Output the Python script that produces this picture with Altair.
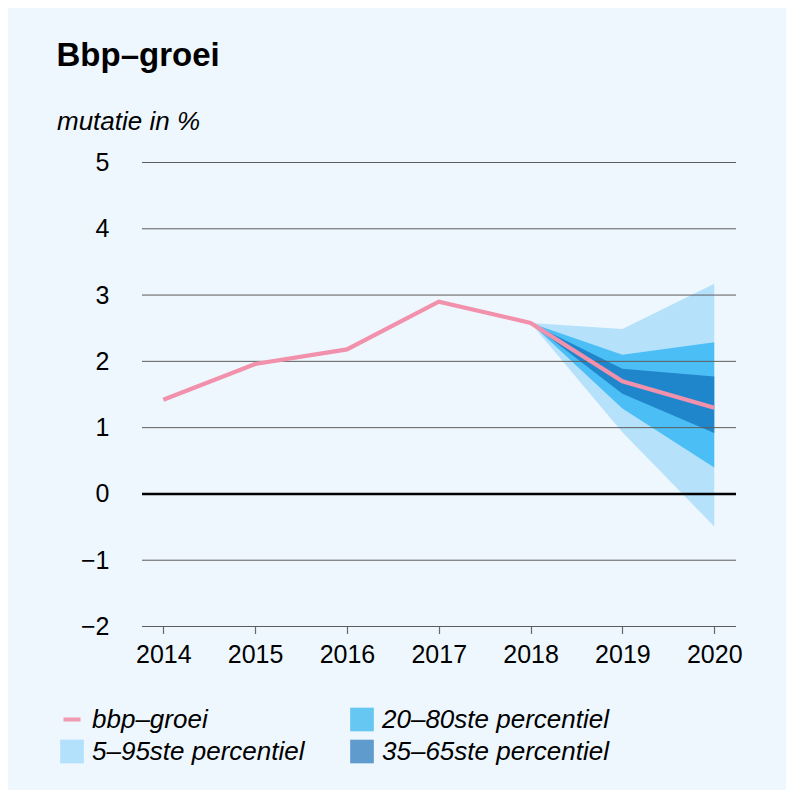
import altair as alt
import pandas as pd

# ---- data ----
years = [2014, 2015, 2016, 2017, 2018, 2019, 2020]
growth = [1.42, 1.96, 2.18, 2.90, 2.58, 1.70, 1.30]

fan_years = [2018, 2019, 2020]
p5 = [2.58, 0.93, -0.49]
p95 = [2.58, 2.49, 3.17]
p20 = [2.58, 1.29, 0.40]
p80 = [2.58, 2.10, 2.29]
p35 = [2.58, 1.51, 0.92]
p65 = [2.58, 1.89, 1.77]

grid_values = [-2, -1, 1, 2, 3, 4, 5]
y_ticks = [-2, -1, 0, 1, 2, 3, 4, 5]

L_LINE = "bbp–groei"
L_2080 = "20–80ste percentiel"
L_595 = "5–95ste percentiel"
L_3565 = "35–65ste percentiel"
# legend is filled column by column
legend_order = [L_LINE, L_595, L_2080, L_3565]

C_LINE = "#F291AB"
C_595 = "#B5E1FB"
C_2080 = "#4BBFF5"
C_3565 = "#2086CB"
legend_colors = ["#F29AB0", "#B3E0FB", "#66C8F2", "#5F9BCD"]
legend_shapes = ["M-0.72,-0.17H0.72V0.17H-0.72Z", "M-1,-1H1V1H-1Z",
                 "M-1,-1H1V1H-1Z", "M-1,-1H1V1H-1Z"]

line_df = pd.DataFrame({"jaar": years, "groei": growth})
band_rows = []
for lab, lo, hi in [(L_595, p5, p95), (L_2080, p20, p80), (L_3565, p35, p65)]:
    for yr, a, b in zip(fan_years, lo, hi):
        band_rows.append({"jaar": yr, "band": lab, "lo": a, "hi": b})
band_df = pd.DataFrame(band_rows)
band_colors = {L_595: C_595, L_2080: C_2080, L_3565: C_3565}
grid_df = pd.DataFrame({"v": grid_values})
zero_df = pd.DataFrame({"v": [0]})
legend_df = pd.DataFrame({"lab": legend_order})

W, H = 594, 464
FONT = "Liberation Sans"

xscale = alt.Scale(domain=[2013.768, 2020.237], nice=False, zero=False)
yscale = alt.Scale(domain=[-2, 5], nice=False, zero=False)

legend = alt.Legend(
    title=None, orient="none", legendX=-83, legendY=544, columns=2,
    columnPadding=44, rowPadding=6, symbolSize=560, labelLimit=500,
    labelFont=FONT, labelFontSize=26, labelFontStyle="italic", labelColor="black",
    labelOffset=7, padding=0, symbolStrokeWidth=0, symbolOpacity=1,
)

x_enc = alt.X("jaar:Q", scale=xscale, axis=alt.Axis(
    values=years, format="d", title=None, domain=False, grid=False,
    ticks=True, tickSize=7, tickColor="#6a6a6a", tickWidth=1.2,
    labelFont=FONT, labelFontSize=25, labelColor="black", labelPadding=9))

y_axis = alt.Axis(
    values=y_ticks, format="d", title="mutatie in %", domain=False, grid=False, ticks=False,
    labelFont=FONT, labelFontSize=25, labelColor="black", labelPadding=33,
    titleAngle=0, titleAlign="left", titleBaseline="alphabetic",
    titleX=-85.5, titleY=-33, titleFont=FONT, titleFontSize=26,
    titleFontStyle="italic", titleFontWeight="normal", titleColor="black")

bands = []
for i, lab in enumerate([L_595, L_2080, L_3565]):
    enc = dict(
        x=x_enc if i == 0 else alt.X("jaar:Q", scale=xscale),
        y=alt.Y("lo:Q", scale=yscale, axis=y_axis) if i == 0 else alt.Y("lo:Q", scale=yscale),
        y2="hi:Q",
    )
    bands.append(
        alt.Chart(band_df).transform_filter(alt.datum.band == lab)
        .mark_area(opacity=1, interpolate="linear", color=band_colors[lab]).encode(**enc)
    )

grid = alt.Chart(grid_df).mark_rule(color="#5c5c5c", strokeWidth=1).encode(
    y=alt.Y("v:Q", scale=yscale), x=alt.value(0), x2=alt.value(W))
zero = alt.Chart(zero_df).mark_rule(color="black", strokeWidth=2.6).encode(
    y=alt.Y("v:Q", scale=yscale), x=alt.value(0), x2=alt.value(W))

line = alt.Chart(line_df).mark_line(color=C_LINE, strokeWidth=4.2).encode(
    x=alt.X("jaar:Q", scale=xscale), y=alt.Y("groei:Q", scale=yscale))

legend_layer = alt.Chart(legend_df).mark_point(filled=True, opacity=0).encode(
    color=alt.Color("lab:N", scale=alt.Scale(domain=legend_order, range=legend_colors),
                    legend=legend),
    shape=alt.Shape("lab:N", scale=alt.Scale(domain=legend_order, range=legend_shapes),
                    legend=legend),
)

chart = alt.layer(*bands, grid, zero, line, legend_layer).properties(
    width=W, height=H,
    title=alt.TitleParams(text="Bbp–groei", anchor="start", frame="group", dx=-85.5,
                          offset=36, font=FONT, fontSize=33, fontWeight="bold", color="black"),
    autosize=alt.AutoSizeParams(type="none"),
    padding={"left": 134, "top": 154.5, "right": 50, "bottom": 163.5},
).configure(background="#EEF7FE").configure_view(stroke=None)

chart.save("out.html", embed_options={"renderer": "svg", "actions": False})
